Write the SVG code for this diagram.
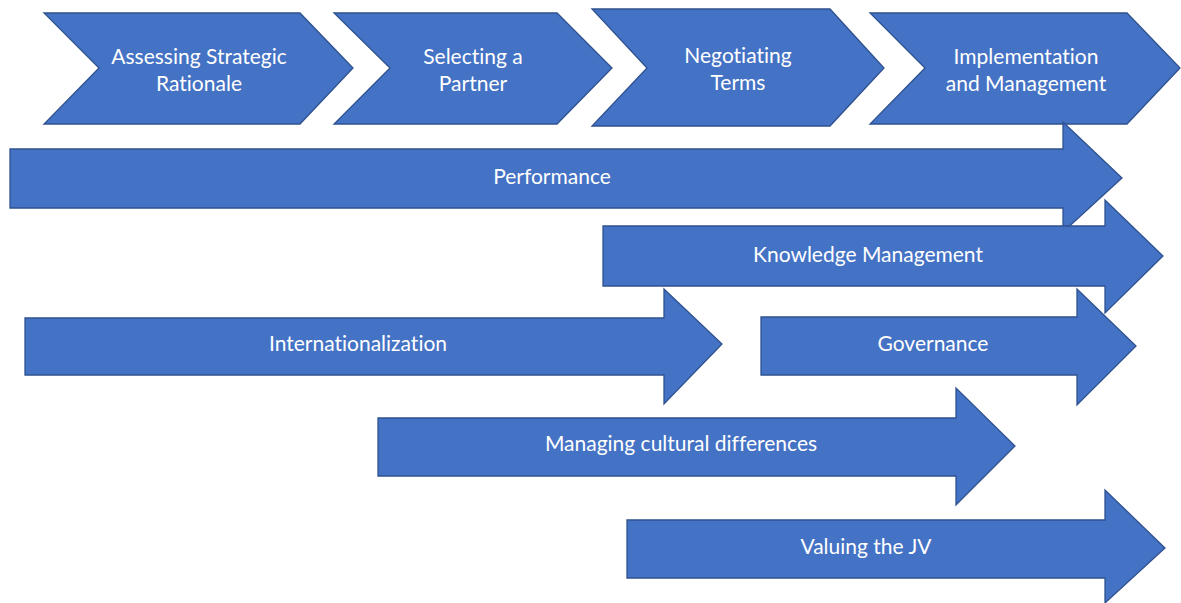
<svg xmlns="http://www.w3.org/2000/svg" width="1181" height="603" viewBox="0 0 1181 603">
  <style>
    .shape { fill: #4472C4; stroke: #2F528F; stroke-width: 1.3; stroke-linejoin: miter; }
    .label { fill: #FFFFFF; font-family: "Lato", "Liberation Sans", sans-serif; font-size: 21px; text-anchor: middle; dominant-baseline: central; font-variant-ligatures: none; }
  </style>
  <rect width="1181" height="603" fill="#FFFFFF"/>

  <!-- process stages (chevrons) -->
  <g id="stage-assessing">
    <polygon class="shape" points="44,13 300,13 353,68 300,124 44,124 99,68"/>
    <text class="label" x="199" y="55">Assessing Strategic</text>
    <text class="label" x="199" y="82">Rationale</text>
  </g>
  <g id="stage-selecting">
    <polygon class="shape" points="334,13 557,13 612,68 557,124 334,124 390,68"/>
    <text class="label" x="473" y="55">Selecting a</text>
    <text class="label" x="473" y="82">Partner</text>
  </g>
  <g id="stage-negotiating">
    <polygon class="shape" points="592,9 830,9 884,68 830,126 592,126 647,68"/>
    <text class="label" x="738" y="54">Negotiating</text>
    <text class="label" x="738" y="81">Terms</text>
  </g>
  <g id="stage-implementation">
    <polygon class="shape" points="870,13 1127,13 1180,68 1127,124 870,124 925,68"/>
    <text class="label" x="1026" y="55">Implementation</text>
    <text class="label" x="1026" y="82">and Management</text>
  </g>

  <!-- themes spanning the stages (block arrows) -->
  <g id="connectors">
    <g id="theme-performance">
      <polygon class="shape" points="10,149 1063,149 1063,122 1122,178 1063,232 1063,208 10,208"/>
      <text class="label" x="552" y="175">Performance</text>
    </g>
    <g id="theme-knowledge">
      <polygon class="shape" points="603,226 1105,226 1105,200 1163,256 1105,313 1105,286 603,286"/>
      <text class="label" x="868" y="253">Knowledge Management</text>
    </g>
    <g id="theme-internationalization">
      <polygon class="shape" points="25,318 664,318 664,289 722,344 664,404 664,375 25,375"/>
      <text class="label" x="358" y="342">Internationalization</text>
    </g>
    <g id="theme-governance">
      <polygon class="shape" points="761,317 1077,317 1077,289 1136,346 1077,405 1077,375 761,375"/>
      <text class="label" x="933" y="342">Governance</text>
    </g>
    <g id="theme-culture">
      <polygon class="shape" points="378,418 956,418 956,388 1015,446 956,505 956,476 378,476"/>
      <text class="label" x="681" y="442">Managing cultural differences</text>
    </g>
    <g id="theme-valuing">
      <polygon class="shape" points="627,520 1105,520 1105,490 1165,548 1105,603 1105,578 627,578"/>
      <text class="label" x="866" y="545">Valuing the JV</text>
    </g>
  </g>
</svg>
